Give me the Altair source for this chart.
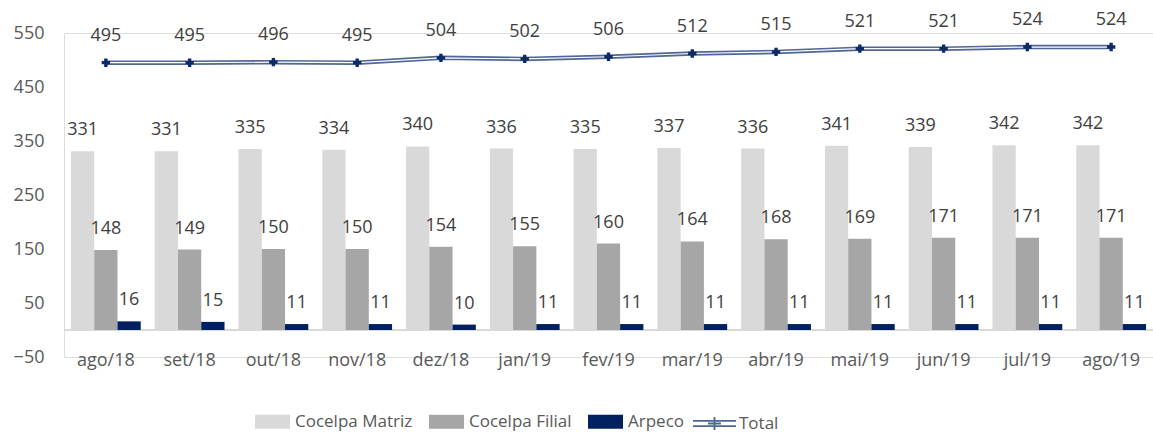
import altair as alt
import pandas as pd

months = ["ago/18", "set/18", "out/18", "nov/18", "dez/18", "jan/19", "fev/19",
          "mar/19", "abr/19", "mai/19", "jun/19", "jul/19", "ago/19"]
series_names = ["Cocelpa Matriz", "Cocelpa Filial", "Arpeco"]
matriz = [331, 331, 335, 334, 340, 336, 335, 337, 336, 341, 339, 342, 342]
filial = [148, 149, 150, 150, 154, 155, 160, 164, 168, 169, 171, 171, 171]
arpeco = [16, 15, 11, 11, 10, 11, 11, 11, 11, 11, 11, 11, 11]
total = [495, 495, 496, 495, 504, 502, 506, 512, 515, 521, 521, 524, 524]
y_ticks = [-50, 50, 150, 250, 350, 450, 550]

bar_colors = ["#d9d9d9", "#a6a6a6", "#002060"]
line_color = "#4f6696"
marker_color = "#0b2a66"
label_color = "#404040"
axis_color = "#595959"
FONT = "Open Sans"

rows = []
for name, vals in zip(series_names, [matriz, filial, arpeco]):
    for m, v in zip(months, vals):
        rows.append({"month": m, "series": name, "value": v})
bars_df = pd.DataFrame(rows)
total_df = pd.DataFrame({"month": months, "value": total, "series": ["Total"] * len(months)})
zero_df = pd.DataFrame({"z": [0]})

x_enc = alt.X("month:N", sort=months, title=None,
              scale=alt.Scale(paddingInner=0.167, paddingOuter=0.083),
              axis=alt.Axis(labelAngle=0, ticks=False, domain=False, grid=False,
                            labelFontSize=18, labelColor=axis_color, labelFont=FONT,
                            labelBaseline="middle", labelPadding=3))
y_scale = alt.Scale(domain=[-50, 550], nice=False, zero=False)
y_enc = alt.Y("value:Q", scale=y_scale, title=None,
              axis=alt.Axis(values=y_ticks, ticks=False, domain=False, grid=False,
                            labelFontSize=18, labelColor=axis_color, labelFont=FONT,
                            labelPadding=20))
xoff = alt.XOffset("series:N", sort=series_names,
                   scale=alt.Scale(paddingInner=0, paddingOuter=0))

bars = alt.Chart(bars_df).mark_bar().encode(
    x=x_enc, y=y_enc, xOffset=xoff,
    color=alt.Color("series:N", sort=series_names,
                    scale=alt.Scale(domain=series_names, range=bar_colors),
                    legend=alt.Legend(title=None, orient="none", direction="horizontal",
                                      legendX=191, legendY=371, padding=0,
                                      symbolType="M-1,-0.4H1V0.4H-1Z", symbolSize=1225,
                                      symbolStrokeWidth=0, labelFontSize=17,
                                      labelColor=axis_color, labelFont=FONT,
                                      labelOffset=5, columnPadding=16)),
)

bar_labels = alt.Chart(bars_df).mark_text(
    dy=-21, fontSize=18, color=label_color, font=FONT, baseline="middle"
).encode(x=x_enc, y=y_enc, xOffset=xoff, text="value:Q")

zero_rule = alt.Chart(zero_df).mark_rule(color="#d9d9d9", strokeWidth=2).encode(
    y=alt.Y("z:Q", scale=y_scale)
)

line_outer = alt.Chart(total_df).mark_line(strokeWidth=4.5).encode(
    x=x_enc, y=y_enc,
    color=alt.Color("series:N",
                    scale=alt.Scale(domain=["Total"], range=[line_color]),
                    legend=alt.Legend(title=None, orient="none", direction="horizontal",
                                      legendX=628, legendY=368, padding=0,
                                      symbolType="M-1,-0.12H1M-1,0.12H1M0,-0.3V0.3M-0.3,0H0.3",
                                      symbolSize=1850, symbolStrokeWidth=1.8,
                                      labelFontSize=17, labelColor=axis_color,
                                      labelFont=FONT, labelOffset=2)),
)
line_inner = alt.Chart(total_df).mark_line(strokeWidth=1.2, color="white").encode(
    x=x_enc, y=y_enc
)
markers = alt.Chart(total_df).mark_point(
    shape="cross", filled=True, size=70, color=marker_color, opacity=1
).encode(x=x_enc, y=y_enc)
total_labels = alt.Chart(total_df).mark_text(
    dy=-27, fontSize=18, color=label_color, font=FONT, baseline="middle"
).encode(x=x_enc, y=y_enc, text="value:Q")

chart = alt.layer(
    zero_rule, bars, bar_labels, line_outer, line_inner, markers, total_labels
).resolve_scale(color="independent").properties(
    width=1089, height=324,
    autosize=alt.AutoSizeParams(type="none"),
    padding={"left": 64, "top": 33, "right": 0, "bottom": 77},
).configure_view(stroke=None).configure(font=FONT)

chart.save("out.html", embed_options={"renderer": "svg", "actions": False})
